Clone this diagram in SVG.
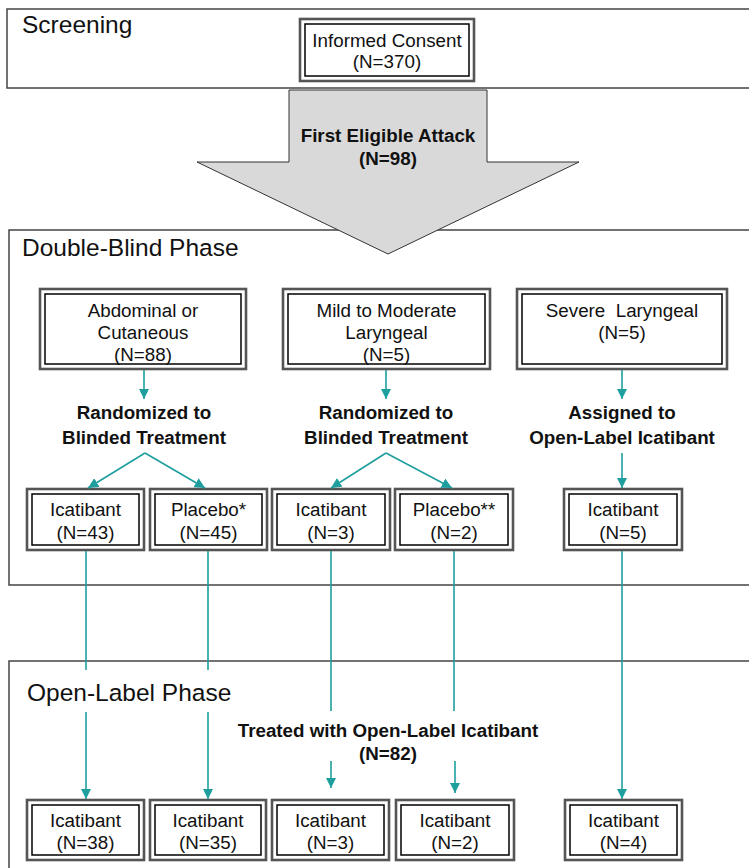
<svg xmlns="http://www.w3.org/2000/svg" width="749" height="868" viewBox="0 0 749 868">
<style>
.sec{fill:none;stroke:#444;stroke-width:1.5}
.lbl{font-family:"Liberation Sans",Arial,sans-serif;font-size:24.5px;fill:#111}
.o{fill:#fff;stroke:#555;stroke-width:2.6}
.i{fill:none;stroke:#000;stroke-width:1.5}
.t{font-family:"Liberation Sans",Arial,sans-serif;font-size:18.8px;fill:#111;text-anchor:middle}
.b{font-family:"Liberation Sans",Arial,sans-serif;font-size:18.8px;font-weight:bold;fill:#111;text-anchor:middle}
.c{fill:none;stroke:#1f9e9e;stroke-width:1.6}
.ca{fill:none;stroke:#1f9e9e;stroke-width:1.6;marker-end:url(#ah)}
</style>
<defs>
<marker id="ah" viewBox="0 0 10 10" refX="10" refY="5" markerWidth="6.5" markerHeight="6.5" orient="auto" markerUnits="strokeWidth">
<path d="M0,0 L10,5 L0,10 z" fill="#1f9e9e"/>
</marker>
</defs>
<rect width="749" height="868" fill="#fff"/>
<g id="sections">
<rect class="sec" x="7" y="9" width="760" height="79"/>
<text class="lbl" x="22" y="33">Screening</text>
<rect class="sec" x="9" y="230" width="760" height="355"/>
<text class="lbl" x="22" y="256">Double-Blind Phase</text>
<rect class="sec" x="9" y="661" width="760" height="230"/>
<text class="lbl" x="27" y="701">Open-Label Phase</text>
</g>
<g id="consent">
<rect class="o" x="300" y="19" width="174" height="62"/>
<rect class="i" x="305" y="24" width="164" height="52"/>
<text class="t" x="387" y="47">Informed Consent</text>
<text class="t" x="387" y="68">(N=370)</text>
</g>
<g id="first-attack">
<polygon points="289,90 487,90 487,162 579,162 388,254 197,162 289,162" fill="#d9d9d9" stroke="#333" stroke-width="1"/>
<text class="b" x="388" y="142">First Eligible Attack</text>
<text class="b" x="388" y="165">(N=98)</text>
</g>
<g id="abdominal">
<rect class="o" x="40" y="289" width="206" height="80"/>
<rect class="i" x="45" y="294" width="196" height="70"/>
<text class="t" x="143" y="317">Abdominal or</text>
<text class="t" x="143" y="339">Cutaneous</text>
<text class="t" x="143" y="361">(N=88)</text>
</g>
<g id="mild">
<rect class="o" x="283" y="289" width="207" height="80"/>
<rect class="i" x="288" y="294" width="197" height="70"/>
<text class="t" x="386.5" y="317">Mild to Moderate</text>
<text class="t" x="386.5" y="339">Laryngeal</text>
<text class="t" x="386.5" y="361">(N=5)</text>
</g>
<g id="severe">
<rect class="o" x="517" y="289" width="210" height="80"/>
<rect class="i" x="522" y="294" width="200" height="70"/>
<text class="t" x="622" y="317" xml:space="preserve">Severe  Laryngeal</text>
<text class="t" x="622" y="339">(N=5)</text>
</g>
<g id="labels">
<text class="b" x="144" y="419">Randomized to</text>
<text class="b" x="144" y="444">Blinded Treatment</text>
<text class="b" x="386" y="419">Randomized to</text>
<text class="b" x="386" y="444">Blinded Treatment</text>
<text class="b" x="622" y="419">Assigned to</text>
<text class="b" x="622" y="444">Open-Label Icatibant</text>
<text class="b" x="388" y="737">Treated with Open-Label Icatibant</text>
<text class="b" x="388" y="760">(N=82)</text>
</g>
<g id="db-ica-43">
<rect class="o" x="27" y="489" width="117" height="61"/>
<rect class="i" x="32" y="494" width="107" height="51"/>
<text class="t" x="85.5" y="516">Icatibant</text>
<text class="t" x="85.5" y="539">(N=43)</text>
</g>
<g id="db-pla-45">
<rect class="o" x="150" y="489" width="117" height="61"/>
<rect class="i" x="155" y="494" width="107" height="51"/>
<text class="t" x="208.5" y="516">Placebo*</text>
<text class="t" x="208.5" y="539">(N=45)</text>
</g>
<g id="db-ica-3">
<rect class="o" x="272" y="489" width="118" height="61"/>
<rect class="i" x="277" y="494" width="108" height="51"/>
<text class="t" x="331" y="516">Icatibant</text>
<text class="t" x="331" y="539">(N=3)</text>
</g>
<g id="db-pla-2">
<rect class="o" x="395" y="489" width="118" height="61"/>
<rect class="i" x="400" y="494" width="108" height="51"/>
<text class="t" x="454" y="516">Placebo**</text>
<text class="t" x="454" y="539">(N=2)</text>
</g>
<g id="db-ica-5">
<rect class="o" x="564" y="489" width="118" height="61"/>
<rect class="i" x="569" y="494" width="108" height="51"/>
<text class="t" x="623" y="516">Icatibant</text>
<text class="t" x="623" y="539">(N=5)</text>
</g>
<g id="ol-ica-38">
<rect class="o" x="27" y="800" width="117" height="60"/>
<rect class="i" x="32" y="805" width="107" height="50"/>
<text class="t" x="85.5" y="827">Icatibant</text>
<text class="t" x="85.5" y="849">(N=38)</text>
</g>
<g id="ol-ica-35">
<rect class="o" x="150" y="800" width="116" height="60"/>
<rect class="i" x="155" y="805" width="106" height="50"/>
<text class="t" x="208" y="827">Icatibant</text>
<text class="t" x="208" y="849">(N=35)</text>
</g>
<g id="ol-ica-3">
<rect class="o" x="272" y="800" width="117" height="60"/>
<rect class="i" x="277" y="805" width="107" height="50"/>
<text class="t" x="330.5" y="827">Icatibant</text>
<text class="t" x="330.5" y="849">(N=3)</text>
</g>
<g id="ol-ica-2">
<rect class="o" x="396" y="800" width="118" height="60"/>
<rect class="i" x="401" y="805" width="108" height="50"/>
<text class="t" x="455" y="827">Icatibant</text>
<text class="t" x="455" y="849">(N=2)</text>
</g>
<g id="ol-ica-4">
<rect class="o" x="565" y="800" width="117" height="60"/>
<rect class="i" x="570" y="805" width="107" height="50"/>
<text class="t" x="623.5" y="827">Icatibant</text>
<text class="t" x="623.5" y="849">(N=4)</text>
</g>
<g id="connectors">
<line class="ca" x1="144" y1="370" x2="144" y2="399"/>
<line class="ca" x1="386" y1="370" x2="386" y2="399"/>
<line class="ca" x1="622" y1="370" x2="622" y2="399"/>
<line class="ca" x1="145" y1="453" x2="88" y2="488"/>
<line class="ca" x1="145" y1="453" x2="205" y2="488"/>
<line class="ca" x1="386" y1="453" x2="331" y2="488"/>
<line class="ca" x1="386" y1="453" x2="452" y2="488"/>
<line class="ca" x1="622" y1="453" x2="622" y2="488"/>
<line class="c" x1="86" y1="551" x2="86" y2="670"/>
<line class="ca" x1="86" y1="712" x2="86" y2="799"/>
<line class="c" x1="208" y1="551" x2="208" y2="670"/>
<line class="ca" x1="208" y1="712" x2="208" y2="799"/>
<line class="c" x1="331" y1="551" x2="331" y2="711"/>
<line class="ca" x1="331" y1="761" x2="331" y2="788"/>
<line class="c" x1="454" y1="551" x2="454" y2="711"/>
<line class="ca" x1="455" y1="761" x2="455" y2="793"/>
<line class="ca" x1="622" y1="551" x2="622" y2="799"/>
</g>
</svg>
